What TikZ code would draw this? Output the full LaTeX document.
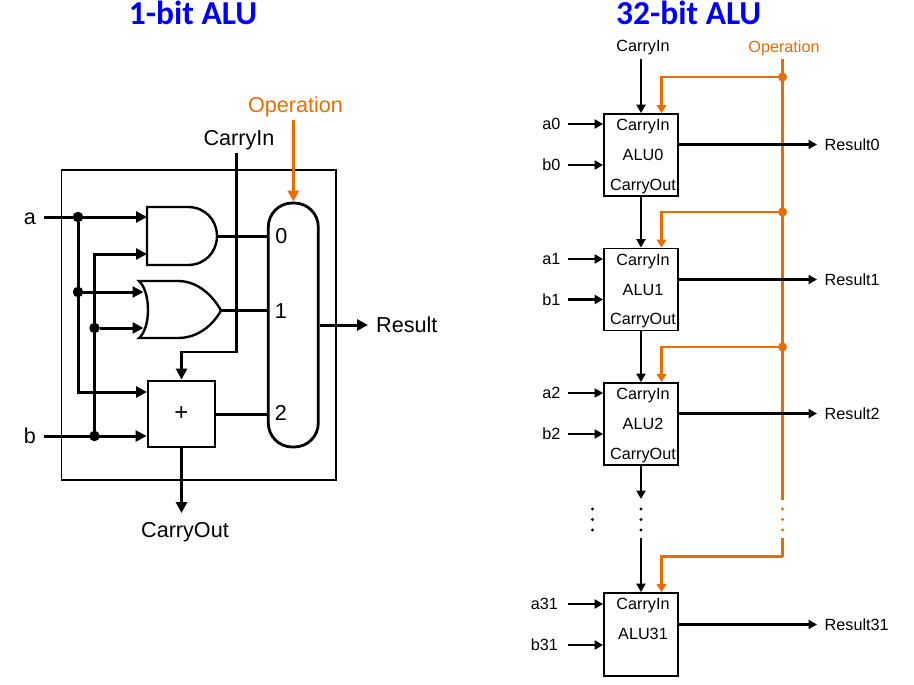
\documentclass[tikz,border=0pt]{standalone}
\usepackage{fontspec}
\setmainfont{Liberation Sans}
\newfontfamily\titlefont{Carlito}
\usetikzlibrary{arrows.meta, positioning}
\definecolor{opcolor}{HTML}{EC6C00}
\tikzset{
	lbl/.style={inner ysep=0pt, inner xsep=8pt, font=\fontsize{21.6}{24}\selectfont},
	lbls/.style={inner ysep=0pt, inner xsep=7.5pt, font=\fontsize{16.2}{18}\selectfont},
	inbox/.style={lbls, anchor=center, xshift=2pt},
	heading/.style={anchor=base, text=blue, font=\fontsize{33.5}{36}\selectfont\titlefont\bfseries},
	bigw/.style={line width=3pt, >={Triangle[length=11pt,width=11pt]}},
	smallw/.style={line width=2.3pt, >={Triangle[length=8.5pt,width=9pt]}},
	opw/.style={smallw, draw=opcolor, >={Triangle[length=8pt,width=9.5pt]}},
	alu/.style={draw, line width=1.8pt, inner sep=0pt, minimum width=74pt, minimum height=82pt},
	dot/.style={circle, fill, inner sep=0pt, minimum size=10.5pt},
	opdot/.style={circle, fill=opcolor, inner sep=0pt, minimum size=9pt},
	tinydot/.style={circle, fill, inner sep=0pt, minimum size=3.2pt},
}
\begin{document}
\begin{tikzpicture}[x=1pt,y=-1pt,on grid]
		\useasboundingbox (0,0) rectangle (914,685);
		% 1-bit side
		\node[heading] (title1) at (193,24.5) {1-bit ALU};
		\node[draw, line width=1.1pt, minimum width=274.5pt, minimum height=310pt] (frame) at (198.75,325) {};
		\node[draw, line width=2.8pt, rounded corners=24pt, inner sep=0pt, minimum width=50pt, minimum height=244pt] (mux) at (293.3,325) {};
		\node[draw, line width=2.8pt, inner sep=0pt, minimum width=67pt, minimum height=66pt, font=\fontsize{24}{26}\selectfont] (adder) at (181.5,414) {+};
		\draw[line width=2.4pt] (147,207)
			-- (188,207) .. controls (205,207) and (217,220) .. (217,236) coordinate (andout)
			.. controls (217,252) and (205,265) .. (188,265) -- (147,265) -- cycle;
		\draw[line width=2.4pt] (139,281) .. controls (151,292) and (151,328) .. (139,338)
			-- (178,338) .. controls (198,338) and (213,325) .. (221,310.5) coordinate (orout)
			.. controls (213,296) and (198,281) .. (178,281) -- cycle;
		\coordinate (andina) at (147,217);
		\coordinate (andinb) at (147,254);
		\coordinate (orina) at (143.5,292);
		\coordinate (orinb) at (143.5,328);
		\coordinate (addina) at (147,392);
		\coordinate (cintop) at (236.5,153);
		\coordinate (cinbend) at (236.5,352);
		\coordinate (optop) at (293.5,120);
		\coordinate (cout) at (181.5,513);

		\node[lbl, anchor=east] (a) at (44,219) {a};
		\node[lbl, anchor=east] (b) at (44,436) {b};
		\node[lbl] (cin) at (239,140) {CarryIn};
		\node[lbl, text=opcolor] (op) at (295.5,106.5) {Operation};
		\node[lbl, anchor=north] (coutl) at (185,522) {CarryOut};
		\node[lbl, anchor=west] (res) at (368,325) {Result};
		\node[lbl, inner xsep=0pt] (in0) at (281.5,236) {0};
		\node[lbl, inner xsep=0pt] (in1) at (281,311) {1};
		\node[lbl, inner xsep=0pt] (in2) at (281,413) {2};

		\node[dot] (da) at (78,217) {};
		\node[dot] (dor) at (78,292) {};
		\node[dot] (dborn) at (94.5,328) {};
		\node[dot] (db) at (94.5,436) {};

		\draw[bigw,->] (a.east |- andina) -- (andina);
		\draw[bigw,->] (da) |- (addina);
		\draw[bigw,->] (dor) -- (orina);
		\draw[bigw,->] (db) |- (andinb);
		\draw[bigw,->] (dborn) -- (orinb);
		\draw[bigw,->] (b) -- (adder.west |- b);
		\draw[bigw,line width=2.4pt,->] (cintop) -- (cinbend) -| (adder.north);
		\draw[bigw] (andout) -- (andout -| mux.west);
		\draw[bigw,line width=2.4pt] (orout) -- (orout -| mux.west);
		\draw[bigw] (adder.east) -- (adder.east -| mux.west);
		\draw[bigw,->] (adder.south) -- (cout);
		\draw[bigw,->] (mux.east) -- (res);
		\draw[bigw,draw=opcolor,->] (optop) -- (mux.north);

		% 32-bit side
		\node[heading] (title2) at (688.7,24.5) {32-bit ALU};
		\node[alu] (alu0) at (641,155) {};
		\node[alu] (alu1) [below=134.5pt of alu0] {};
		\node[alu] (alu2) [below=134.5pt of alu1] {};
		\node[alu, minimum height=83pt] (alu31) [below=210.5pt of alu2] {};

		\node (ci0) [below=13.5pt of alu0.north, inbox] {CarryIn};
		\node (name0) [below=42pt of alu0.north, inbox] {ALU0};
		\node (co0) [below=73pt of alu0.north, inbox] {CarryOut};
		\node (ci1) [below=13.5pt of alu1.north, inbox] {CarryIn};
		\node (name1) [below=42pt of alu1.north, inbox] {ALU1};
		\node (co1) [below=73pt of alu1.north, inbox] {CarryOut};
		\node (ci2) [below=13.5pt of alu2.north, inbox] {CarryIn};
		\node (name2) [below=42pt of alu2.north, inbox] {ALU2};
		\node (co2) [below=73pt of alu2.north, inbox] {CarryOut};
		\node (ci31) [below=13.5pt of alu31.north, inbox] {CarryIn};
		\node (name31) [below=42pt of alu31.north, inbox] {ALU31};

		\node[lbls, anchor=east] (a0) at (568,124) {a0};
		\node[lbls, anchor=east] (b0) at (568,165) {b0};
		\node[lbls, anchor=east] (a1) at (568,259) {a1};
		\node[lbls, anchor=east] (b1) at (568,299.5) {b1};
		\node[lbls, anchor=east] (a2) at (568,393) {a2};
		\node[lbls, anchor=east] (b2) at (568,434) {b2};
		\node[lbls, anchor=east, inner xsep=10pt] (a31) at (568,604) {a31};
		\node[lbls, anchor=east, inner xsep=10pt] (b31) at (568,645) {b31};
		\node[lbls, anchor=west] (res0) at (817,144.5) {Result0};
		\node[lbls, anchor=west] (res1) at (817,279.5) {Result1};
		\node[lbls, anchor=west] (res2) at (817,413.5) {Result2};
		\node[lbls, anchor=west] (res31) at (817,624.5) {Result31};
		\node[lbls] (topci) at (643,48) {CarryIn};
		\node[lbls, text=opcolor] (topop) at (784,48) {Operation};

		\coordinate (citop) at (641,59);
		\coordinate (opup) at (782.5,59);
		\coordinate (opdown) at (782.5,500);
		\coordinate (opcont) at (782.5,538);
		\coordinate (opbend) at (782.5,556.5);
		\coordinate (gapup) at (641,499);
		\coordinate (gapdown) at (641,538);
		\coordinate (op0) at ([xshift=20.5pt]alu0.north);
		\coordinate (op1) at ([xshift=20.5pt]alu1.north);
		\coordinate (op2) at ([xshift=20.5pt]alu2.north);
		\coordinate (op31) at ([xshift=20.5pt]alu31.north);

		\draw[opw,line width=2.7pt] (opup) -- (opdown);
		\node[opdot] (t0) at (782.5,77) {};
		\node[opdot] (t1) at (782.5,212) {};
		\node[opdot] (t2) at (782.5,347) {};
		\draw[opw,->] (t0) -| (op0);
		\draw[opw,->] (t1) -| (op1);
		\draw[opw,->] (t2) -| (op2);
		\draw[opw,line width=2.7pt] (opcont) -- (opbend);
		\draw[opw,->] (opbend) -| (op31);

		\draw[smallw]
			(citop) edge[->] (alu0.north)
			(alu0) edge[->] (alu1)
			(alu1) edge[->] (alu2)
			(alu2) edge[->] (gapup)
			(gapdown) edge[->] (alu31.north);
		\draw[smallw]
			(a0) edge[->] (a0 -| alu0.west)
			(b0) edge[->] (b0 -| alu0.west)
			(a1) edge[->] (a1 -| alu1.west)
			(b1) edge[->] (b1 -| alu1.west)
			(a2) edge[->] (a2 -| alu2.west)
			(b2) edge[->] (b2 -| alu2.west)
			(a31) edge[->] (a31 -| alu31.west)
			(b31) edge[->] (b31 -| alu31.west);
		\draw[smallw]
			(res0 -| alu0.east) edge[->] (res0)
			(res1 -| alu1.east) edge[->] (res1)
			(res2 -| alu2.east) edge[->] (res2)
			(res31 -| alu31.east) edge[->] (res31);

		\node[tinydot] (v1) at (592.5,509) {};
		\node[tinydot] (v2) at (592.5,519.5) {};
		\node[tinydot] (v3) at (592.5,530) {};
		\node[tinydot] (v4) at (641,509) {};
		\node[tinydot] (v5) at (641,519.5) {};
		\node[tinydot] (v6) at (641,530) {};
		\node[tinydot, fill=opcolor] (v7) at (782.5,509) {};
		\node[tinydot, fill=opcolor] (v8) at (782.5,519.5) {};
		\node[tinydot, fill=opcolor] (v9) at (782.5,530) {};
		\end{tikzpicture}
\end{document}
